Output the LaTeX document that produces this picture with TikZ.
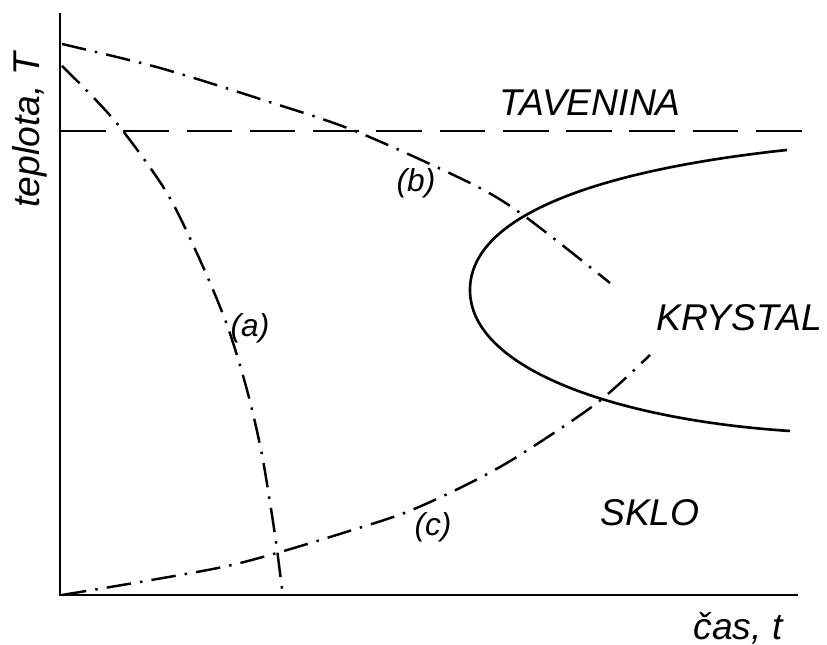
\documentclass[tikz,border=0pt]{standalone}
\usepackage{fontspec}
\setmainfont{Liberation Sans}
\usepackage{tikz}

\tikzset{
  axis/.style={line width=0.8pt},
  dashdot/.style={line width=0.7pt,dash pattern=on 7pt off 2.6pt on 0.7pt off 2.6pt},
  melt/.style={line width=0.7pt,dash pattern=on 13pt off 5pt},
  phase/.style={font=\itshape\fontsize{10.6}{13}\selectfont,inner sep=1pt},
  tag/.style={font=\itshape\fontsize{9}{11}\selectfont,inner sep=1pt}
}

\begin{document}
\begin{tikzpicture}[scale=1.0]
 \useasboundingbox (0,0) rectangle (8.27,6.45);
 % axes
 \coordinate (O) at (0.60,0.50);
 \coordinate (Ttop) at (0.60,6.32);
 \coordinate (tend) at (7.98,0.50);
 \draw[axis] (Ttop) -- (O) -- (tend);
 % melting temperature
 \coordinate (m1) at (0.60,5.14);
 \coordinate (m2) at (8.15,5.14);
 \draw[melt] (m1) -- (m2);
 % crystallisation curve
 \coordinate (k1) at (7.87,4.95);
 \coordinate (nose) at (4.70,3.55);
 \coordinate (k2) at (7.90,2.14);
 \draw[line width=0.75pt] (k1) .. controls (6.0,4.75) and (4.70,4.30) .. (nose)
  .. controls (4.70,2.75) and (6.2,2.25) .. (k2);
 % cooling curves
 \draw[dashdot] plot[smooth] coordinates
  {(0.62,5.79) (0.93,5.48) (1.23,5.14) (1.67,4.52) (2.00,3.85) (2.27,3.20)
   (2.47,2.55) (2.62,1.90) (2.75,1.10) (2.83,0.48)};
 \draw[dashdot] plot[smooth] coordinates
  {(0.62,6.01) (1.60,5.77) (2.60,5.46) (3.55,5.14) (4.70,4.62) (5.23,4.30) (6.10,3.62)};
 \draw[dashdot] plot[smooth] coordinates
  {(0.62,0.50) (1.40,0.63) (2.23,0.78) (2.77,0.92) (3.43,1.12) (4.07,1.33)
   (4.70,1.62) (5.20,1.90) (5.97,2.42) (6.50,2.90)};
 % labels
 \node[phase,rotate=90] (Tlab) at (0.30,5.15) {teplota, T};
 \node[phase] (tlab) at (7.38,0.17) {čas, t};
 \node[phase] (melt) at (5.90,5.42) {TAVENINA};
 \node[phase] (cryst) at (7.39,3.27) {KRYSTAL};
 \node[phase] (glass) at (6.50,1.32) {SKLO};
 \node[tag] (a) at (2.50,3.17) {(a)};
 \node[tag] (b) at (4.16,4.62) {(b)};
 \node[tag] (c) at (4.33,1.18) {(c)};
\end{tikzpicture}
\end{document}
